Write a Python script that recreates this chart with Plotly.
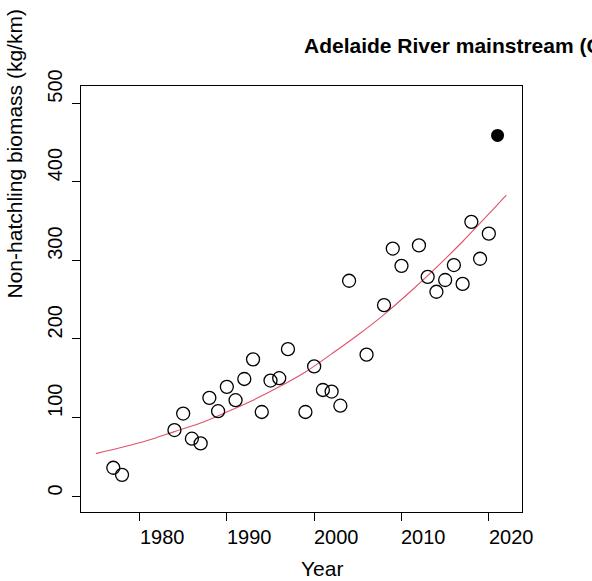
import plotly.graph_objects as go

# Observed data (open circles)
years = [1977, 1978, 1984, 1985, 1986, 1987, 1988, 1989, 1990, 1991, 1992, 1993,
         1994, 1995, 1996, 1997, 1999, 2000, 2001, 2002, 2003, 2004, 2006, 2008,
         2009, 2010, 2012, 2013, 2014, 2015, 2016, 2017, 2018, 2019, 2020]
biomass = [36, 27, 84, 105, 73, 67, 125, 108, 139, 122, 149, 174,
           107, 147, 150, 187, 107, 165, 135, 133, 115, 274, 180, 243,
           315, 293, 319, 279, 260, 275, 294, 270, 349, 302, 334]

# Highlighted latest survey (filled)
latest_year = [2021]
latest_biomass = [459]

# Fitted trend line
fit_years = [1975, 1978, 1981, 1984, 1987, 1990, 1993, 1996, 1999, 2002,
             2005, 2008, 2011, 2014, 2017, 2020, 2022]
fit_values = [54, 62, 71, 82, 93, 107, 122, 139, 158, 181,
              205, 231, 260, 291, 324, 359, 383]

x_ticks = [1980, 1990, 2000, 2010, 2020]
y_ticks = [0, 100, 200, 300, 400, 500]

title_text = "Adelaide River mainstream (C"
x_title = "Year"
y_title = "Non-hatchling biomass (kg/km)"

FONT = "Liberation Sans, Arial, sans-serif"

fig = go.Figure()
fig.add_trace(go.Scatter(x=fit_years, y=fit_values, mode="lines",
                         line=dict(color="#DF536B", width=1.1, shape="spline"),
                         hoverinfo="skip", showlegend=False))
fig.add_trace(go.Scatter(x=years, y=biomass, mode="markers",
                         marker=dict(symbol="circle-open", size=13, color="black",
                                     line=dict(width=1.3, color="black")),
                         showlegend=False))
fig.add_trace(go.Scatter(x=latest_year, y=latest_biomass, mode="markers",
                         marker=dict(symbol="circle", size=13, color="black"),
                         showlegend=False))

annotations = []
for t in x_ticks:
    annotations.append(dict(x=t, xref="x", y=0, yref="paper", text=str(t),
                            xanchor="left", yanchor="top", showarrow=False,
                            xshift=-2, yshift=-12,
                            font=dict(family=FONT, size=20, color="black")))
for v in y_ticks:
    annotations.append(dict(x=0, xref="paper", y=v, yref="y", text=str(v),
                            xanchor="center", yanchor="bottom", showarrow=False,
                            textangle=-90, xshift=-26, yshift=-2,
                            font=dict(family=FONT, size=20, color="black")))
annotations.append(dict(x=0.5, xref="paper", y=0, yref="paper", text=x_title,
                        xanchor="left", yanchor="top", showarrow=False,
                        xshift=-2, yshift=-44, borderpad=0,
                        font=dict(family=FONT, size=21, color="black")))
annotations.append(dict(x=0, xref="paper", y=0.5, yref="paper", text=y_title,
                        xanchor="center", yanchor="bottom", showarrow=False,
                        textangle=-90, xshift=-67, yshift=-2,
                        font=dict(family=FONT, size=21, color="black")))
annotations.append(dict(x=0.5, xref="paper", y=1, yref="paper", text="<b>" + title_text + "</b>",
                        xanchor="left", yanchor="bottom", showarrow=False,
                        xshift=0, yshift=27,
                        font=dict(family=FONT, size=21, color="black")))

fig.update_layout(
    width=592, height=581,
    margin=dict(l=81, r=70, t=86, b=69),
    paper_bgcolor="white", plot_bgcolor="white",
    showlegend=False,
    annotations=annotations,
    xaxis=dict(range=[1973.3, 2023.8], tickvals=x_ticks, showticklabels=False,
               ticks="outside", ticklen=8, tickcolor="black", tickwidth=1,
               showline=True, linecolor="black", linewidth=1, mirror=True,
               showgrid=False, zeroline=False),
    yaxis=dict(range=[-20.3, 521.9], tickvals=y_ticks, showticklabels=False,
               ticks="outside", ticklen=8, tickcolor="black", tickwidth=1,
               showline=True, linecolor="black", linewidth=1, mirror=True,
               showgrid=False, zeroline=False),
)

fig.write_html("out.html")
